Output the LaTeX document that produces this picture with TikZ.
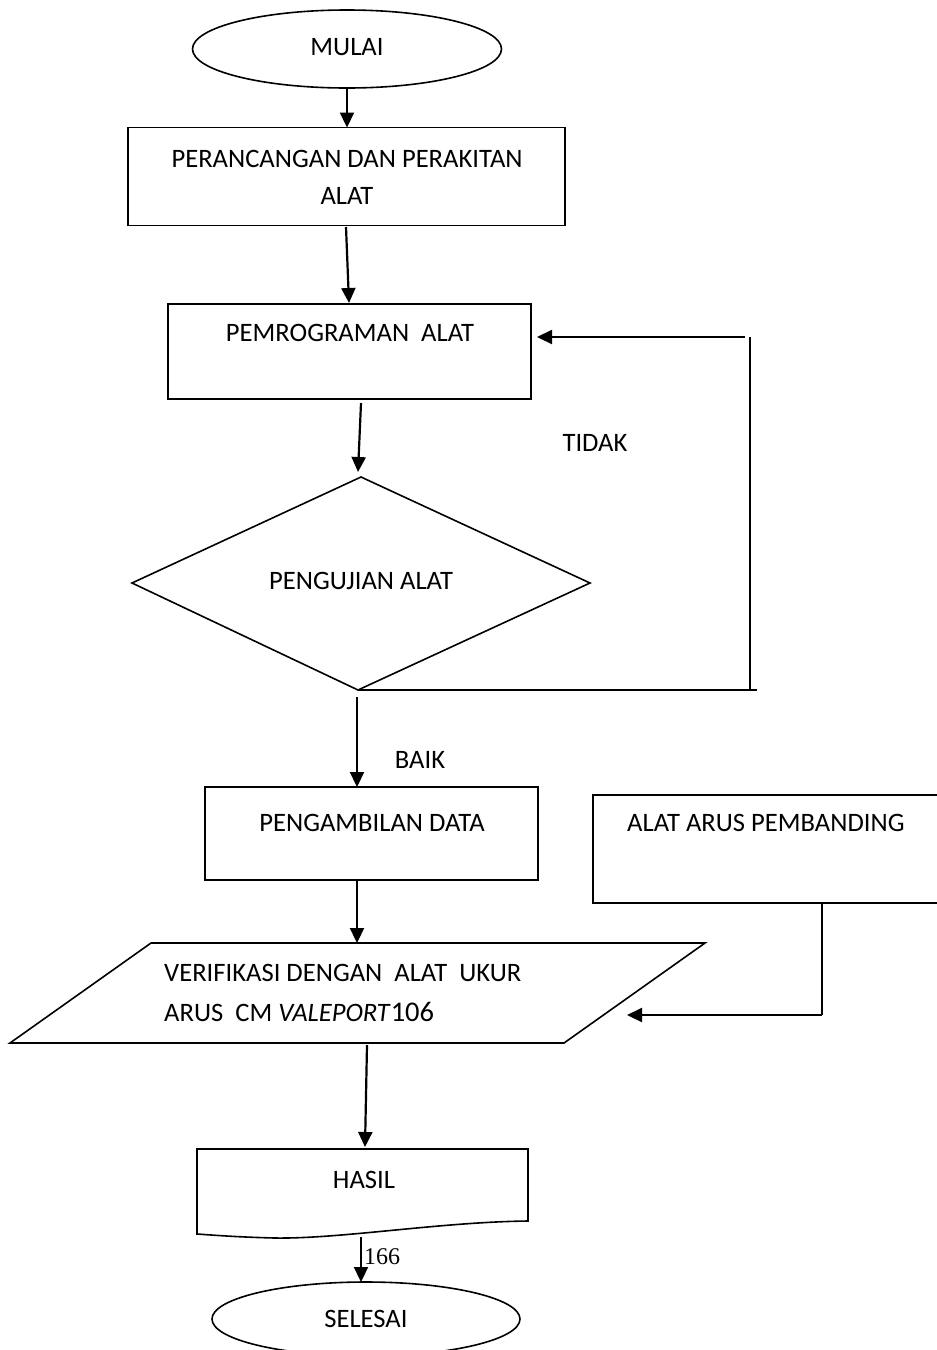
\documentclass[tikz,border=0pt]{standalone}
\usepackage{fontspec}
\setmainfont{Carlito}
\newfontfamily\serifnum{Liberation Serif}
\usetikzlibrary{arrows.meta,shapes.geometric}
\begin{document}
\begin{tikzpicture}[x=1pt,y=-1pt,
  shp/.style={draw=black,line width=1.6pt,inner sep=0pt,outer sep=0pt},
  boxnode/.style={shp,rectangle},
  ovalnode/.style={shp,ellipse},
  lbl/.style={inner sep=0pt,font=\fontsize{26.6}{37}\selectfont,text=black},
  conn/.style={line width=2.2pt,-{Triangle[length=15pt,width=14pt]}},
  plain/.style={line width=2.2pt}]
\useasboundingbox (0,0) rectangle (937,1350);
\fill[white] (0,0) rectangle (937,1350);
\clip (0,0) rectangle (937,1350);

% terminals
\node[ovalnode,minimum width=309pt,minimum height=78pt] (start) at (347,49) {};
\node[lbl] (startt) at (347,47) {MULAI};
\node[ovalnode,minimum width=308pt,minimum height=74pt] (stop) at (366,1319) {};
\node[lbl] (stopt) at (366,1319) {SELESAI};

% process boxes
\node[boxnode,minimum width=437pt,minimum height=98pt] (b1) at (346.5,176.5) {};
\node[lbl,align=center] (b1t) at (347,177) {PERANCANGAN DAN PERAKITAN\\ALAT};
\node[boxnode,minimum width=363pt,minimum height=95pt] (b2) at (349.5,351.5) {};
\node[lbl] (b2t) at (350,333) {PEMROGRAMAN\ \ ALAT};
\node[boxnode,minimum width=333pt,minimum height=93pt] (b3) at (371.5,833.5) {};
\node[lbl] (b3t) at (372,823) {PENGAMBILAN DATA};
\node[boxnode,minimum width=380pt,minimum height=108pt,anchor=north west] (b4) at (593,795) {};
\node[lbl,anchor=west] (b4t) at (627,823) {ALAT ARUS PEMBANDING};

% decision
\coordinate (dT) at (361,477);
\coordinate (dL) at (132,583);
\coordinate (dR) at (590,583);
\coordinate (dB) at (358,690);
\draw[line width=1.6pt,line join=miter] (dT) -- (dR) -- (dB) -- (dL) -- cycle;
\node[lbl] (dt) at (361,581) {PENGUJIAN ALAT};

% parallelogram
\coordinate (pTL) at (151,943);
\coordinate (pTR) at (705,943);
\coordinate (pBR) at (564,1043);
\coordinate (pBL) at (10,1043);
\draw[line width=1.6pt] (pTL) -- (pTR) -- (pBR) -- (pBL) -- cycle;
\node[lbl,anchor=west] (pt1) at (164,973) {VERIFIKASI DENGAN\ \ ALAT\ \ UKUR};
\node[lbl,anchor=west] (pt2) at (164,1012) {ARUS\ \ CM \textit{VALEPORT}{\fontsize{28.5}{30}\selectfont 106}};

% document shape
\coordinate (hTL) at (197,1149);
\coordinate (hTR) at (528,1149);
\coordinate (hBR) at (528,1221);
\coordinate (hBL) at (197,1234);
\draw[line width=1.6pt] (hTL) -- (hTR) -- (hBR)
  .. controls (440,1222) and (340,1239) .. (275,1238)
  .. controls (235,1237) and (212,1235) .. (hBL) -- cycle;
\node[lbl] (ht) at (364,1180) {HASIL};

% connectors
\draw[conn] (start.south) -- (b1.north -| start.south);
\coordinate (c2a) at (346,227);
\coordinate (c2b) at (349,303);
\draw[conn] (c2a) -- (c2b);
\coordinate (c3a) at (361,403);
\coordinate (c3b) at (358,472);
\draw[conn] (c3a) -- (c3b);
% loop TIDAK
\coordinate (lr) at (750,690);
\coordinate (lt) at (750,337);
\coordinate (le) at (537,337);
\draw[plain] (dB) -- (757,690);
\draw[plain] (lt) -- (lr);
\draw[conn] (745,337) -- (le);
\node[lbl] (tidak) at (595,443) {TIDAK};
% BAIK
\coordinate (c5a) at (357,697);
\draw[conn] (c5a) -- (b3.north -| c5a);
\node[lbl] (baik) at (420,760) {BAIK};
\draw[conn] (b3.south -| c5a) -- (pTL -| c5a);
% pembanding
\coordinate (c7a) at (822,903);
\coordinate (c7b) at (822,1015);
\coordinate (c7c) at (627,1015);
\draw[plain] (c7a) -- (c7b);
\draw[conn] (c7b) -- (c7c);
% to HASIL
\coordinate (c8a) at (367,1045);
\coordinate (c8b) at (365,1147);
\draw[conn] (c8a) -- (c8b);
\coordinate (c9a) at (361,1237);
\draw[conn] (c9a) -- (stop.north -| c9a);
\node[inner sep=0pt,anchor=west,font=\serifnum\fontsize{24}{28}\selectfont] (pg) at (364,1257) {166};
\end{tikzpicture}
\end{document}
